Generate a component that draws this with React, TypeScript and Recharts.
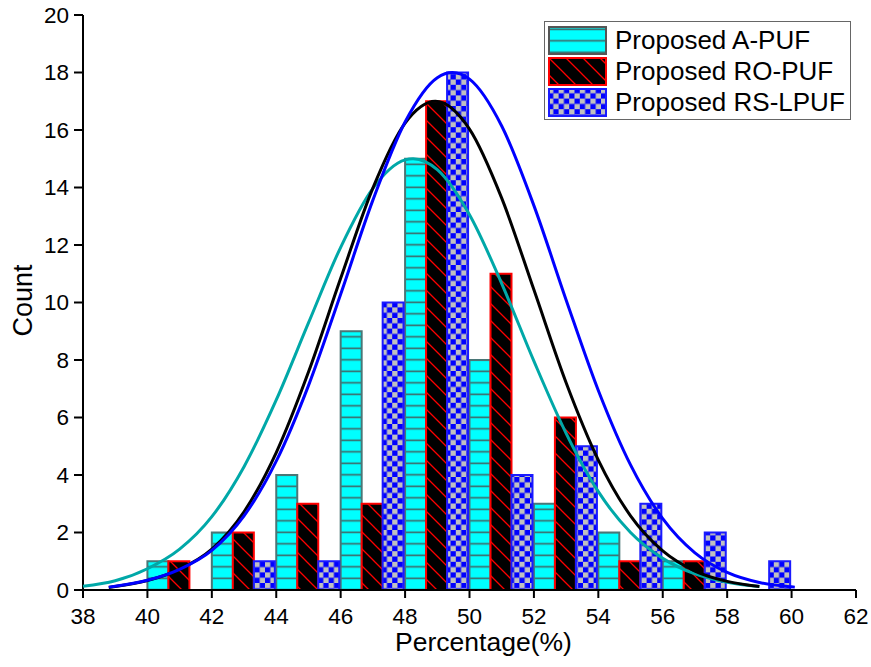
import { Bar, BarChart, Label, Line, LineChart, XAxis, YAxis } from "recharts";

// histogram bins (2% wide), values are counts
const binCenters = [41, 43, 45, 47, 49, 51, 53, 55, 57, 59];
const aPufCounts = [1, 2, 4, 9, 15, 8, 3, 2, 1, 0];
const roPufCounts = [1, 2, 3, 3, 17, 11, 6, 1, 1, 0];
const rsLpufCounts = [0, 1, 1, 10, 18, 4, 5, 3, 2, 1];

// fitted curves
const aFitX = [38, 39, 40, 41, 42, 43, 44, 45, 46, 47, 48, 48.25, 49, 50, 51, 52, 53, 54, 55, 56, 57, 58, 59];
const aFitY = [0.13, 0.32, 0.74, 1.42, 2.55, 4.29, 6.61, 9.29, 11.92, 13.97, 14.96, 15, 14.62, 13.05, 10.66, 7.96, 5.45, 3.42, 2.0, 1.1, 0.56, 0.27, 0.12];
const roFitX = [38.8, 39, 40, 41, 42, 43, 44, 45, 46, 47, 48, 48.94, 50, 51, 52, 53, 54, 55, 56, 57, 58, 59];
const roFitY = [0.09, 0.12, 0.33, 0.72, 1.42, 2.72, 4.78, 7.58, 10.84, 13.98, 16.24, 17, 16.03, 13.63, 10.44, 7.21, 4.52, 2.58, 1.36, 0.66, 0.3, 0.12];
const rsFitX = [38.8, 39, 40, 41, 42, 43, 44, 45, 46, 47, 48, 49, 49.47, 50, 51, 52, 53, 54, 55, 56, 57, 58, 59, 60, 60.1];
const rsFitY = [0.1, 0.13, 0.34, 0.72, 1.38, 2.58, 4.48, 7.11, 10.29, 13.56, 16.28, 17.82, 18, 17.77, 16.14, 13.37, 10.09, 6.94, 4.35, 2.48, 1.29, 0.61, 0.26, 0.11, 0.1];

const xTicks = [38, 40, 42, 44, 46, 48, 50, 52, 54, 56, 58, 60, 62];
const xMinorTicks = [39, 41, 43, 45, 47, 49, 51, 53, 55, 57, 59, 61];
const yTicks = [0, 2, 4, 6, 8, 10, 12, 14, 16, 18, 20];
const yMinorTicks = [1, 3, 5, 7, 9, 11, 13, 15, 17, 19];

const W = 871;
const H = 667;
const MARGIN = { top: 15, right: 15, left: 0, bottom: 0 };
const FONT = '"Liberation Sans", Arial, sans-serif';

const COLORS = {
	aLine: "#00A8A8",
	roLine: "#000000",
	rsLine: "#0000FF",
	aBorder: "#4a7676",
	roBorder: "#FF0000",
	rsBorder: "#1a1aff",
};

const barRows = binCenters.map((x, i) => ({
	x,
	aPuf: aPufCounts[i],
	roPuf: roPufCounts[i],
	rsLpuf: rsLpufCounts[i],
}));

const fitRows = (() => {
	const map = new Map<number, Record<string, number>>();
	const put = (xs: number[], ys: number[], key: string) => {
		xs.forEach((x, i) => {
			const row = map.get(x) ?? { x };
			row[key] = ys[i];
			map.set(x, row);
		});
	};
	put(aFitX, aFitY, "aFit");
	put(roFitX, roFitY, "roFit");
	put(rsFitX, rsFitY, "rsFit");
	return [...map.values()].sort((a, b) => a.x - b.x);
})();

const axisLine = { stroke: "#000", strokeWidth: 2 };
const tickStyle = { fill: "#000", fontSize: 22.5, fontFamily: FONT };

function Patterns() {
	return (
		<svg width={0} height={0} style={{ position: "absolute" }}>
			<defs>
				<pattern id="aHatch" patternUnits="userSpaceOnUse" width={10} height={11.5}>
					<rect width={10} height={11.5} fill="#00FFFF" />
					<rect x={0} y={2.5} width={10} height={1.6} fill="#3f6666" />
				</pattern>
				<pattern id="roHatch" patternUnits="userSpaceOnUse" width={17} height={17}>
					<rect width={17} height={17} fill="#000" />
					<path d="M0,0 L17,17 M-4,13 L4,21 M13,-4 L21,4" stroke="#FF0000" strokeWidth={1.3} />
				</pattern>
				<pattern id="rsCheck" patternUnits="userSpaceOnUse" width={10.6} height={10.6}>
					<rect width={10.6} height={10.6} fill="#0000FF" />
					<rect x={0} y={0} width={5.3} height={5.3} fill="#C0C0C0" />
					<rect x={5.3} y={5.3} width={5.3} height={5.3} fill="#C0C0C0" />
				</pattern>
			</defs>
		</svg>
	);
}

const legendItems = [
	{ name: "Proposed A-PUF", fill: "url(#aHatch)", stroke: "#555" },
	{ name: "Proposed RO-PUF", fill: "url(#roHatch)", stroke: COLORS.roBorder },
	{ name: "Proposed RS-LPUF", fill: "url(#rsCheck)", stroke: COLORS.rsBorder },
];

function ChartLegend() {
	return (
		<div
			style={{
				position: "absolute",
				left: 544,
				top: 21,
				width: 307,
				height: 99,
				boxSizing: "border-box",
				border: "1.5px solid #666",
				background: "#fff",
				paddingTop: 3,
				paddingLeft: 3,
			}}
		>
			{legendItems.map((item) => (
				<div
					key={item.name}
					style={{ display: "flex", alignItems: "center", height: 31 }}
				>
					<svg width={60} height={29}>
						<rect
							x={1}
							y={1}
							width={57}
							height={27}
							fill={item.fill}
							stroke={item.stroke}
							strokeWidth={2}
						/>
					</svg>
					<span
						style={{
							marginLeft: 7,
							fontSize: 26,
							fontFamily: FONT,
							color: "#000",
							whiteSpace: "nowrap",
						}}
					>
						{item.name}
					</span>
				</div>
			))}
		</div>
	);
}

export default function App() {
	return (
		<div
			style={{
				position: "fixed",
				left: 0,
				top: 0,
				width: W,
				height: H,
				background: "#fff",
				fontFamily: FONT,
			}}
		>
			<Patterns />
			<div style={{ position: "absolute", left: 0, top: 0 }}>
				<BarChart
					width={W}
					height={H}
					data={barRows}
					margin={MARGIN}
					barGap={0}
					barCategoryGap={0}
				>
					<XAxis
						dataKey="x"
						type="number"
						domain={[38, 62]}
						ticks={xTicks}
						interval={0}
						height={77}
						tickSize={8}
						tickMargin={10}
						axisLine={axisLine}
						tickLine={axisLine}
						tick={tickStyle}
					>
						<Label
							content={(props: any) => {
								const vb = props.viewBox;
								return (
									<text
										x={vb.x + vb.width / 2 + 14}
										y={vb.y + 61}
										textAnchor="middle"
										fontSize={26.5}
										fontFamily={FONT}
										fill="#000"
									>
										Percentage(%)
									</text>
								);
							}}
						/>
					</XAxis>
					<YAxis
						type="number"
						domain={[0, 20]}
						ticks={yTicks}
						interval={0}
						width={83}
						tickSize={9}
						tickMargin={5}
						axisLine={axisLine}
						tickLine={axisLine}
						tick={tickStyle}
					>
						<Label
							content={(props: any) => {
								const vb = props.viewBox;
								const cx = vb.x + 32;
								const cy = vb.y + vb.height / 2 - 2;
								return (
									<text
										x={cx}
										y={cy}
										transform={`rotate(-90 ${cx} ${cy})`}
										textAnchor="middle"
										fontSize={27}
										fontFamily={FONT}
										fill="#000"
									>
										Count
									</text>
								);
							}}
						/>
					</YAxis>
					<XAxis
						xAxisId="top"
						orientation="top"
						type="number"
						domain={[38, 62]}
						height={0}
						tick={false}
						tickLine={false}
						axisLine={axisLine}
					/>
					<YAxis
						yAxisId="right"
						orientation="right"
						type="number"
						domain={[0, 20]}
						width={0}
						tick={false}
						tickLine={false}
						axisLine={axisLine}
					/>
					<Bar
						dataKey="aPuf"
						fill="url(#aHatch)"
						stroke={COLORS.aBorder}
						strokeWidth={2}
						isAnimationActive={false}
					/>
					<Bar
						dataKey="roPuf"
						fill="url(#roHatch)"
						stroke={COLORS.roBorder}
						strokeWidth={2}
						isAnimationActive={false}
					/>
					<Bar
						dataKey="rsLpuf"
						fill="url(#rsCheck)"
						stroke={COLORS.rsBorder}
						strokeWidth={2}
						isAnimationActive={false}
					/>
				</BarChart>
			</div>
			<div style={{ position: "absolute", left: 0, top: 0, pointerEvents: "none" }}>
				<LineChart width={W} height={H} data={fitRows} margin={MARGIN}>
					<XAxis
						dataKey="x"
						type="number"
						domain={[38, 62]}
						ticks={xMinorTicks}
						interval={0}
						height={77}
						tickSize={4}
						tick={false}
						axisLine={false}
						tickLine={axisLine}
					/>
					<YAxis
						type="number"
						domain={[0, 20]}
						ticks={yMinorTicks}
						interval={0}
						width={83}
						tickSize={4}
						tick={false}
						axisLine={false}
						tickLine={axisLine}
					/>
					<Line
						type="monotone"
						dataKey="aFit"
						stroke={COLORS.aLine}
						strokeWidth={3}
						dot={false}
						connectNulls
						isAnimationActive={false}
					/>
					<Line
						type="monotone"
						dataKey="roFit"
						stroke={COLORS.roLine}
						strokeWidth={3}
						dot={false}
						connectNulls
						isAnimationActive={false}
					/>
					<Line
						type="monotone"
						dataKey="rsFit"
						stroke={COLORS.rsLine}
						strokeWidth={3}
						dot={false}
						connectNulls
						isAnimationActive={false}
					/>
				</LineChart>
			</div>
			<ChartLegend />
		</div>
	);
}
